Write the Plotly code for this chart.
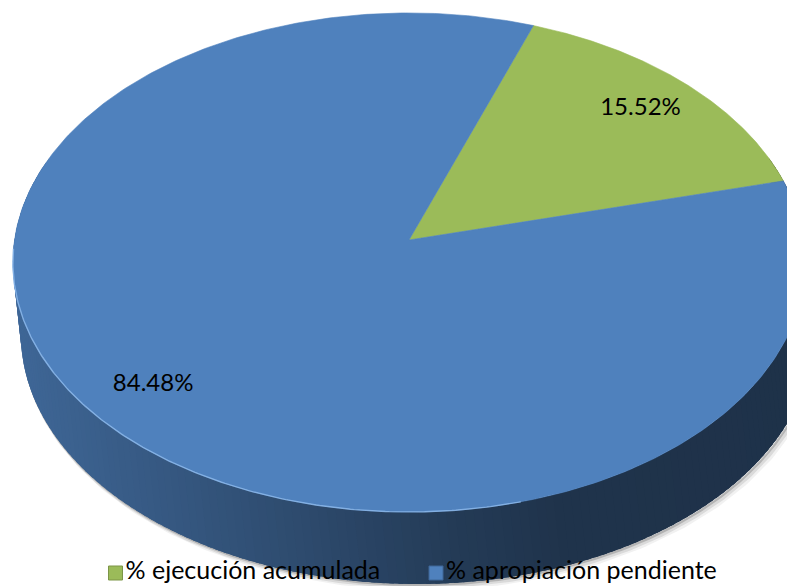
import numpy as np
import plotly.graph_objects as go

# ---------------- data ----------------
categories = ["% ejecución acumulada", "% apropiación pendiente"]
values = [15.52, 84.48]
slice_colors = ["#9BBB59", "#4F81BD"]
first_slice_angle = 20  # degrees clockwise from 12 o'clock

# ---------------- page / geometry (pixel space of the window) ----------------
WIN_W, WIN_H = 795, 586
BODY = 8                   # default page margin around the plot div
W, H = WIN_W - BODY, WIN_H - BODY

CX, CY = 409.0, 240.0      # projected centre of the top face
RA, RB = 394.5, 247.5      # horizontal / vertical projected radii
PERSP = 0.09               # perspective factor
DEPTH = 72.0               # thickness of the pie (screen drop of the bottom face)
SHIFT = 8.0                # horizontal offset of the bottom face
LABEL_R = 0.83             # radial position of data labels


def proj(theta_deg, f=1.0, bottom=False):
    t = np.radians(theta_deg)
    s = np.sin(t) * f
    c = np.cos(t) * f
    w = 1.0 / (1.0 + PERSP * s)
    x = CX + RA * c * w
    y = CY - RB * s * w
    if bottom:
        x = x + SHIFT
        y = y + DEPTH
    return x, y


def phi_to_theta(phi):
    return 90.0 - phi


def hex_rgb(h):
    h = h.lstrip("#")
    return tuple(int(h[i:i + 2], 16) for i in (0, 2, 4))


def shade(hexcol, k):
    r, g, b = hex_rgb(hexcol)
    return f"rgb({int(r * k)},{int(g * k)},{int(b * k)})"


def side_factor(x):
    return float(np.interp(x, [13, 250, 450, 560, 795], [0.80, 0.62, 0.46, 0.40, 0.39]))


total = sum(values)
spans = []
start = first_slice_angle
for v in values:
    end = start + 360.0 * v / total
    spans.append((start, end))
    start = end


def color_at_phi(phi):
    for (a, b), col in zip(spans, slice_colors):
        p = phi
        while p < a:
            p += 360
        while p >= a + 360:
            p -= 360
        if a <= p < b:
            return col
    return slice_colors[-1]


fig = go.Figure()

# side covers the front of the pie; the part hidden behind the top face is overdrawn later
t_left, t_right = 160.0, 380.0

# soft drop shadow under the side
th = np.linspace(180.0, 368.0, 300)
for off, wdt, op in [(4.5, 7, 0.08), (3.0, 5, 0.14), (1.5, 2.5, 0.28)]:
    xs, ys = proj(th, 1.0, bottom=True)
    fig.add_trace(go.Scatter(x=xs + off, y=ys + off * 0.6, mode="lines",
                             line=dict(color=f"rgba(80,80,80,{op})", width=wdt),
                             hoverinfo="skip", showlegend=False))

# side strips with a horizontal gradient (each strip overlaps the next to hide seams)
n_strips = 180
edges = np.linspace(t_left, t_right, n_strips + 1)
step = edges[1] - edges[0]
for i in range(n_strips):
    a = edges[i]
    b = min(edges[i + 1] + 1.5 * step, t_right)
    tt = np.linspace(a, b, 5)
    xt, yt = proj(tt)
    xb, yb = proj(tt[::-1], 1.0, bottom=True)
    xs = np.concatenate([xt, xb, xt[:1]])
    ys = np.concatenate([yt, yb, yt[:1]])
    mid = 0.5 * (edges[i] + edges[i + 1])
    xm, _ = proj(mid)
    col = shade(color_at_phi(90.0 - mid), side_factor(xm))
    fig.add_trace(go.Scatter(x=xs, y=ys, mode="lines", fill="toself",
                             fillcolor=col, line=dict(width=0),
                             hoverinfo="skip", showlegend=False))

# top face slices
for (a, b), col in zip(spans, slice_colors):
    ph = np.linspace(a, b, 400)
    xs, ys = proj(phi_to_theta(ph))
    xs = np.concatenate([[CX], xs, [CX]])
    ys = np.concatenate([[CY], ys, [CY]])
    fig.add_trace(go.Scatter(x=xs, y=ys, mode="lines", fill="toself",
                             fillcolor=col, line=dict(color=col, width=0.6),
                             hoverinfo="skip", showlegend=False))

# light rim on the front edge of the top face
th = np.linspace(182.0, 285.0, 200)
xs, ys = proj(th)
fig.add_trace(go.Scatter(x=xs, y=ys, mode="lines",
                         line=dict(color="rgba(140,185,235,0.85)", width=1.4),
                         hoverinfo="skip", showlegend=False))

# data labels
lab_x, lab_y, lab_t = [], [], []
for (a, b), v in zip(spans, values):
    mid = phi_to_theta(0.5 * (a + b))
    x, y = proj(mid, LABEL_R)
    lab_x.append(x)
    lab_y.append(y)
    lab_t.append(f"{v:.2f}%")
fig.add_trace(go.Scatter(x=lab_x, y=lab_y, mode="text", text=lab_t,
                         textfont=dict(family="Lato", size=24, color="#000000"),
                         hoverinfo="skip", showlegend=False))

# legend (manual, bottom)
leg_marker_x = [115.5, 436.0]
leg_y = 573.0
fig.add_trace(go.Scatter(x=leg_marker_x, y=[leg_y, leg_y], mode="markers",
                         marker=dict(symbol="square", size=14, color=slice_colors,
                                     line=dict(color=[shade(c, 0.8) for c in slice_colors], width=1)),
                         hoverinfo="skip", showlegend=False))
fig.add_trace(go.Scatter(x=[m + 10 for m in leg_marker_x], y=[leg_y, leg_y], mode="text",
                         text=categories, textposition="middle right",
                         textfont=dict(family="Lato", size=25, color="#000000"),
                         hoverinfo="skip", showlegend=False))

fig.update_layout(
    width=W, height=H,
    margin=dict(l=0, r=0, t=0, b=0),
    paper_bgcolor="white", plot_bgcolor="white",
    xaxis=dict(range=[BODY, WIN_W], visible=False, fixedrange=True),
    yaxis=dict(range=[WIN_H, BODY], visible=False, fixedrange=True),
    showlegend=False,
)

fig.write_html("out.html")
